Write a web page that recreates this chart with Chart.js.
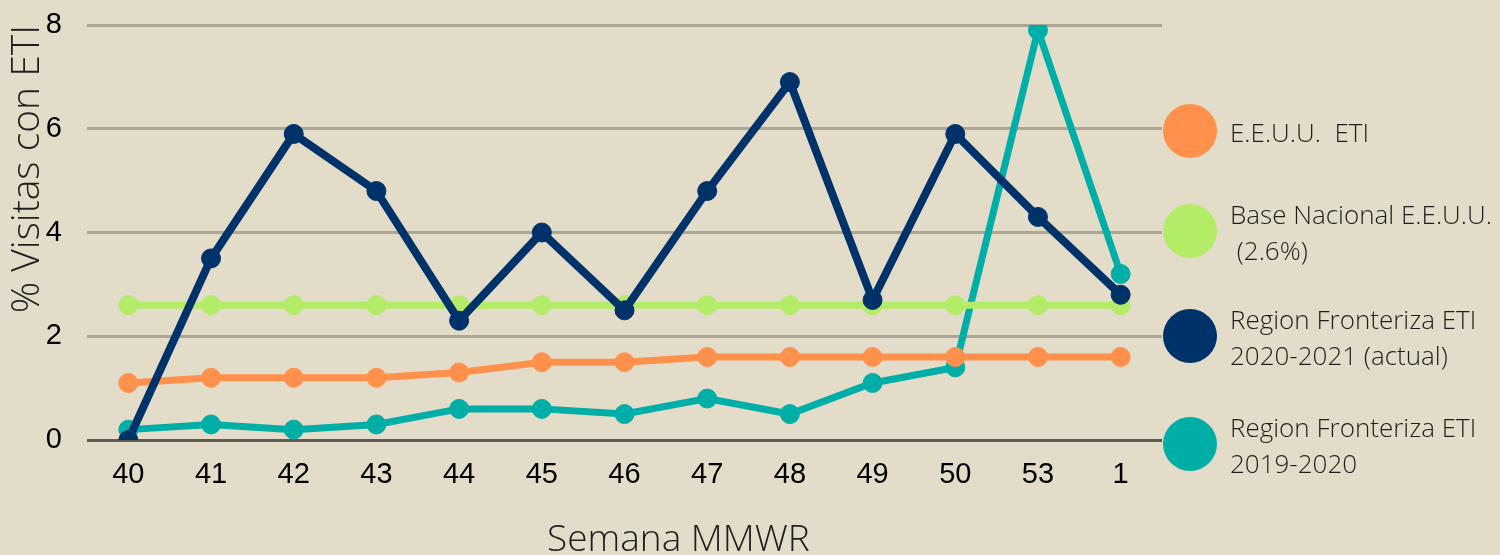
<!DOCTYPE html>
<html>
<head>
<meta charset="utf-8">
<script src="https://cdn.jsdelivr.net/npm/chart.js@4/dist/chart.umd.min.js"></script>
<style>
  html, body { margin: 0; padding: 0; background: #e3dcc9; }
  #wrap { position: relative; width: 1500px; height: 555px; background: #e3dcc9; overflow: hidden; }
  canvas { position: absolute; left: 0; top: 0; }
  .leg { position: absolute; left: 1163px; }
  .dot { position: absolute; left: 0; width: 54px; height: 54px; border-radius: 50%; }
  .ltxt { position: absolute; left: 67px; font-family: "Open Sans", sans-serif; font-weight: 300; font-size: 26px; line-height: 36px; color: #1e1e1e; white-space: pre; }
  #xtitle { position: absolute; left: 547px; top: 515px; font-family: "Open Sans", sans-serif; font-weight: 300; font-size: 37px; line-height: 44px; color: #1e1e1e; white-space: pre; }
</style>
</head>
<body>
<div id="wrap">
  <canvas id="c" width="1500" height="555"></canvas>
  <div id="legend"></div>
  <div id="xtitle"></div>
</div>
<script>
const categories = ["40", "41", "42", "43", "44", "45", "46", "47", "48", "49", "50", "53", "1"];
const usEti = [1.1, 1.2, 1.2, 1.2, 1.3, 1.5, 1.5, 1.6, 1.6, 1.6, 1.6, 1.6, 1.6];
const nationalBaseline = [2.6, 2.6, 2.6, 2.6, 2.6, 2.6, 2.6, 2.6, 2.6, 2.6, 2.6, 2.6, 2.6];
const border2021 = [0, 3.5, 5.9, 4.8, 2.3, 4.0, 2.5, 4.8, 6.9, 2.7, 5.9, 4.3, 2.8];
const border1920 = [0.2, 0.3, 0.2, 0.3, 0.6, 0.6, 0.5, 0.8, 0.5, 1.1, 1.4, 7.9, 3.2];
const yTicks = [0, 2, 4, 6, 8];
const seriesNames = [["E.E.U.U.  ETI"], ["Base Nacional E.E.U.U.", " (2.6%)"], ["Region Fronteriza ETI", "2020-2021 (actual)"], ["Region Fronteriza ETI", "2019-2020"]];
const yTitle = "% Visitas con ETI";
const xTitle = "Semana MMWR";

const colors = ["#ff914d", "#b3ec67", "#00326a", "#00aea8"];
const widths = [7, 7, 8, 7];
const orders = [1, 2, 0, 3];
const seriesData = [usEti, nationalBaseline, border2021, border1920];

const datasets = seriesData.map((d, i) => ({
  label: seriesNames[i].join(" "),
  data: d,
  borderColor: colors[i],
  backgroundColor: colors[i],
  pointBackgroundColor: colors[i],
  pointBorderColor: colors[i],
  borderWidth: widths[i],
  pointRadius: 9.5,
  pointBorderWidth: 1,
  pointHoverRadius: 9.5,
  tension: 0,
  order: orders[i],
  fill: false
}));

new Chart(document.getElementById("c"), {
  type: "line",
  data: { labels: categories, datasets },
  options: {
    responsive: false,
    animation: false,
    devicePixelRatio: 1,
    layout: { padding: { left: 0, right: 338, top: 25, bottom: 0 } },
    plugins: { legend: { display: false }, tooltip: { enabled: false } },
    scales: {
      x: {
        offset: true,
        grid: { display: false, drawTicks: false },
        border: { display: false },
        ticks: { color: "#000", font: { family: "'Liberation Sans', Arial, sans-serif", size: 29 }, padding: 18, maxRotation: 0 },
        afterFit: (s) => { s.height = 115; s.paddingLeft = 0; s.paddingRight = 0; }
      },
      y: {
        min: 0, max: 8,
        afterBuildTicks: (s) => { s.ticks = yTicks.map(v => ({ value: v })); },
        grid: {
          drawTicks: false,
          lineWidth: 3,
          color: (ctx) => (ctx.tick && ctx.tick.value === 0) ? "#5f5b53" : "#aba698"
        },
        border: { display: false },
        ticks: { color: "#000", font: { family: "'Liberation Sans', Arial, sans-serif", size: 29 }, padding: 25 },
        title: { display: true, text: yTitle, align: "end", color: "#1e1e1e", font: { family: "'Open Sans', sans-serif", weight: 300, size: 39 }, padding: { top: 4, bottom: 0 } },
        afterFit: (s) => { s.width = 87; s.paddingTop = 0; s.paddingBottom = 0; }
      }
    }
  }
});

// Legend (HTML text)
const legendTops = [131, 231, 336, 444];
const legendEl = document.getElementById("legend");
seriesNames.forEach((lines, i) => {
  const g = document.createElement("div");
  g.className = "leg";
  g.style.top = (legendTops[i] - 27) + "px";
  const dot = document.createElement("div");
  dot.className = "dot";
  dot.style.background = colors[i];
  g.appendChild(dot);
  const t = document.createElement("div");
  t.className = "ltxt";
  t.textContent = lines.join("\n");
  t.style.top = (27 - lines.length * 18 + 1) + "px";
  g.appendChild(t);
  legendEl.appendChild(g);
});
document.getElementById("xtitle").textContent = xTitle;
</script>
</body>
</html>
